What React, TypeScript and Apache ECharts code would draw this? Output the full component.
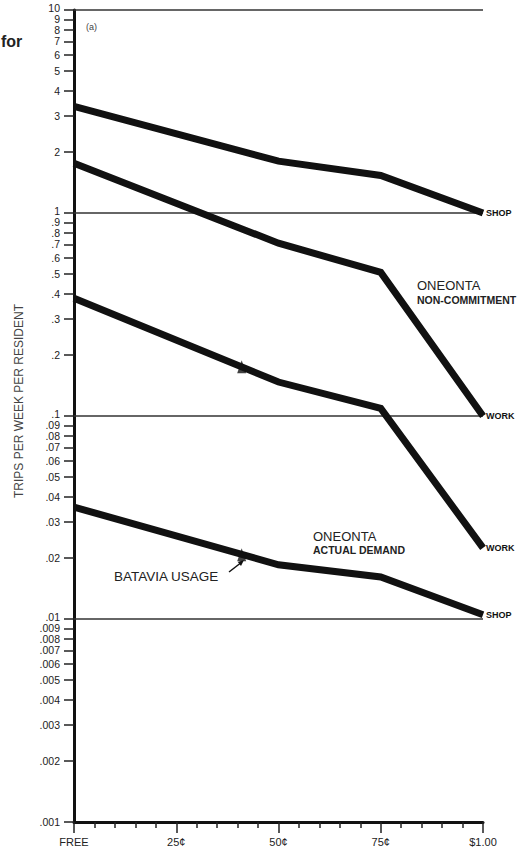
import React, { useEffect, useRef } from "react";
import * as echarts from "echarts";

// Fares in cents (FREE = 0)
const fares = [0, 50, 75, 100];
const xTickValues = [0, 25, 50, 75, 100];
const xTickLabels = ["FREE", "25¢", "50¢", "75¢", "$1.00"];

// Trips per week per resident
const shopNonCommitment = [3.35, 1.8, 1.53, 1.0];
const workNonCommitment = [1.76, 0.71, 0.51, 0.1];
const workActual = [0.38, 0.147, 0.109, 0.0224];
const shopActual = [0.0356, 0.0185, 0.0161, 0.0105];

// Batavia usage markers
const bataviaFare = 41;
const bataviaUsage = [0.175, 0.0207];

const yTickValues = [
  0.001, 0.002, 0.003, 0.004, 0.005, 0.006, 0.007, 0.008, 0.009,
  0.01, 0.02, 0.03, 0.04, 0.05, 0.06, 0.07, 0.08, 0.09,
  0.1, 0.2, 0.3, 0.4, 0.5, 0.6, 0.7, 0.8, 0.9,
  1, 2, 3, 4, 5, 6, 7, 8, 9, 10,
];
const yTickLabels = [
  ".001", ".002", ".003", ".004", ".005", ".006", ".007", ".008", ".009",
  ".01", ".02", ".03", ".04", ".05", ".06", ".07", ".08", ".09",
  ".1", ".2", ".3", ".4", ".5", ".6", ".7", ".8", ".9",
  "1", "2", "3", "4", "5", "6", "7", "8", "9", "10",
];
const decadeLines = [10, 1, 0.1, 0.01];

const FONT = "'Liberation Sans', Arial, sans-serif";
const INK = "#111";

function yLabel(v: number): string {
  for (let i = 0; i < yTickValues.length; i++) {
    if (Math.abs(Math.log10(v / yTickValues[i])) < 1e-4) {
      const t = yTickLabels[i];
      const lead = Math.abs(Math.log10(yTickValues[i]) - Math.round(Math.log10(yTickValues[i]))) < 1e-6;
      if (lead && t !== ".001") return `{up|${t}}`;
      return t;
    }
  }
  return "";
}

function makeLine(name: string, values: number[], endText: string, extra: any = {}) {
  return {
    type: "line",
    name,
    data: fares.map((f, i) => [f, values[i]]),
    symbol: "none",
    lineStyle: { width: 7, color: INK, cap: "butt", join: "miter" },
    endLabel: {
      show: true,
      formatter: endText,
      distance: 3,
      fontSize: 9,
      fontWeight: "bold",
      color: INK,
      fontFamily: FONT,
    },
    z: 3,
    ...extra,
  };
}

export default function App() {
  const ref = useRef<HTMLDivElement>(null);
  useEffect(() => {
    if (!ref.current) return;
    const chart = echarts.init(ref.current, undefined, { renderer: "svg" });
    chart.setOption({
      animation: false,
      backgroundColor: "#fff",
      grid: { left: 74, right: 49, top: 10, bottom: 33, containLabel: false },
      xAxis: {
        type: "value",
        min: 0,
        max: 100,
        interval: 25,
        axisLine: { show: true, onZero: false, lineStyle: { color: INK, width: 3 } },
        axisTick: { show: true, length: 11, lineStyle: { color: "#222", width: 1.5 } },
        minorTick: { show: true, splitNumber: 5, length: 6, lineStyle: { color: "#222", width: 1.5 } },
        axisLabel: {
          formatter: (v: number) => {
            const i = xTickValues.indexOf(v);
            return i >= 0 ? xTickLabels[i] : "";
          },
          margin: 14,
          fontSize: 11,
          color: "#222",
          fontFamily: FONT,
        },
        splitLine: { show: false },
      },
      yAxis: {
        type: "log",
        logBase: 10,
        min: 0.001,
        max: 10.0005,
        axisLine: { show: true, lineStyle: { color: INK, width: 3 } },
        axisTick: { show: true, length: 10, customValues: yTickValues, lineStyle: { color: "#222", width: 1.5 } },
        minorTick: { show: false },
        axisLabel: {
          customValues: yTickValues,
          formatter: (v: number) => yLabel(v),
          margin: 14,
          fontSize: 10.5,
          color: "#222",
          fontFamily: FONT,
          rich: { up: { fontSize: 10.5, color: "#222", fontFamily: FONT, padding: [0, 0, 5, 0] } },
        },
        splitLine: { show: false },
      },
      graphic: [
        { type: "text", x: 1, y: 41, style: { text: "for", font: `bold 16px ${FONT}`, fill: "#222", textVerticalAlign: "middle" } },
        { type: "text", x: 86, y: 27, style: { text: "(a)", font: `9px ${FONT}`, fill: "#444", textVerticalAlign: "middle" } },
        {
          type: "text", x: 19, y: 401, rotation: Math.PI / 2,
          style: { text: "TRIPS PER WEEK PER RESIDENT", font: `12px ${FONT}`, fill: "#444", textAlign: "center", textVerticalAlign: "middle" },
        },
        { type: "text", x: 417, y: 285, style: { text: "ONEONTA", font: `13px ${FONT}`, fill: "#222", textVerticalAlign: "middle" } },
        { type: "text", x: 417, y: 300, style: { text: "NON-COMMITMENT", font: `bold 10.5px ${FONT}`, fill: "#222", textVerticalAlign: "middle" } },
        { type: "text", x: 313, y: 536, style: { text: "ONEONTA", font: `13px ${FONT}`, fill: "#222", textVerticalAlign: "middle" } },
        { type: "text", x: 313, y: 550, style: { text: "ACTUAL DEMAND", font: `bold 10.5px ${FONT}`, fill: "#222", textVerticalAlign: "middle" } },
        { type: "text", x: 114, y: 576, style: { text: "BATAVIA USAGE", font: `13.5px ${FONT}`, fill: "#222", textVerticalAlign: "middle" } },
        { type: "line", shape: { x1: 229, y1: 572, x2: 240, y2: 563.5 }, style: { stroke: INK, lineWidth: 1.5 } },
        { type: "polygon", shape: { points: [[244, 560], [241, 566], [237.8, 562]] }, style: { fill: INK } },
      ],
      series: [
        makeLine("Shop (non-commitment)", shopNonCommitment, "SHOP", {
          markLine: {
            silent: true,
            symbol: "none",
            label: { show: false },
            lineStyle: { type: "solid", color: "#333", width: 1.5 },
            data: decadeLines.map((v) => ({ yAxis: v })),
            z: 1,
          },
        }),
        makeLine("Work (non-commitment)", workNonCommitment, "WORK"),
        makeLine("Work (actual demand)", workActual, "WORK"),
        makeLine("Shop (actual demand)", shopActual, "SHOP"),
        {
          type: "scatter",
          name: "Batavia usage",
          data: bataviaUsage.map((v) => [bataviaFare, v]),
          symbol: "triangle",
          symbolSize: [9, 13],
          itemStyle: { color: INK },
          z: 4,
        },
      ],
    });
    return () => chart.dispose();
  }, []);
  return <div ref={ref} style={{ position: "fixed", left: 0, top: 0, width: 532, height: 855 }} />;
}
